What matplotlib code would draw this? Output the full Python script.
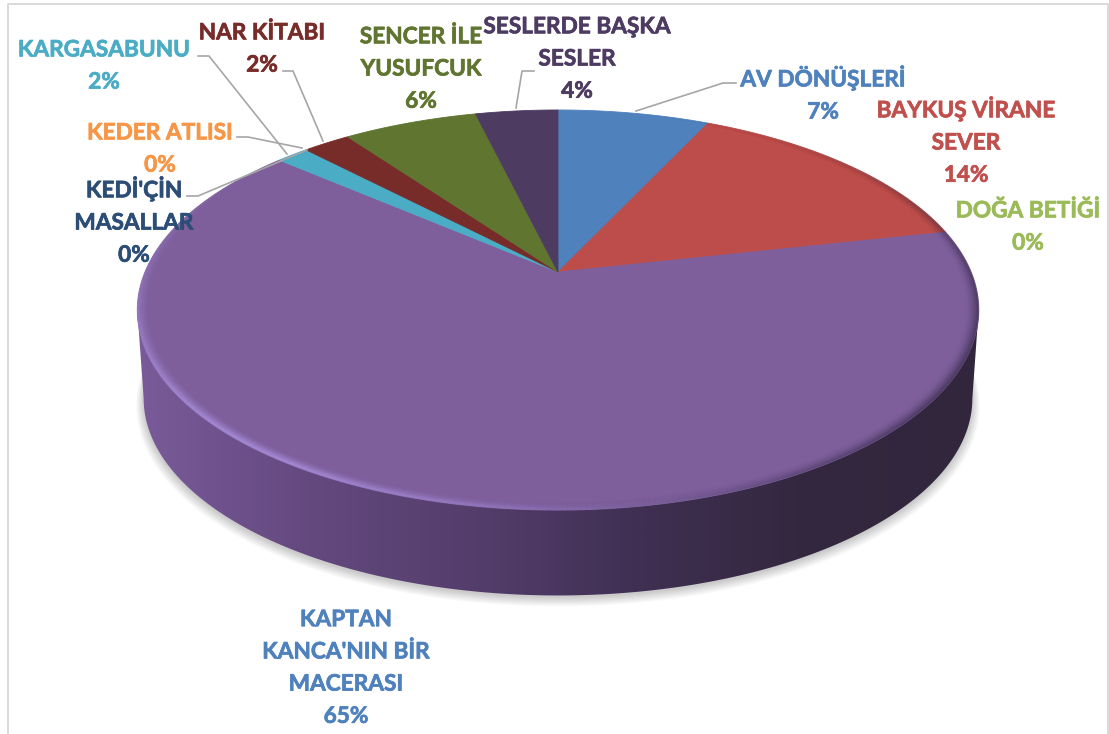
import matplotlib
matplotlib.use('Agg')
import matplotlib.pyplot as plt
import matplotlib.patheffects as pe
from matplotlib.collections import LineCollection
from matplotlib.colors import LinearSegmentedColormap
from matplotlib.patches import Polygon
import numpy as np

# share of each book, clockwise from 12 o'clock
names = ["AV DÖNÜŞLERİ", "BAYKUŞ VİRANE\nSEVER", "DOĞA BETİĞİ", "KAPTAN\nKANCA'NIN BİR\nMACERASI",
         "KEDİ'ÇİN\nMASALLAR", "KEDER ATLISI", "KARGASABUNU", "NAR KİTABI", "SENCER İLE\nYUSUFCUK",
         "SESLERDE BAŞKA\nSESLER"]
values = [7.0, 14.55, 0.0, 64.75, 0.0, 0.0, 1.5, 2.2, 6.2, 3.8]
pct_labels = ["7%", "14%", "0%", "65%", "0%", "0%", "2%", "2%", "6%", "4%"]

face_colors = ['#4F81BD', '#BC4D4A', '#9BBB59', '#7E5F9C', '#2C4D75', '#F79646', '#4BACC6', '#772C2A', '#5F7530', '#4D3B62']
text_colors = ['#4F81BD', '#C0504D', '#9BBB59', '#4F81BD', '#2C4D75', '#F79646', '#4BACC6', '#772C2A', '#5F7530', '#4D3B62']

# label centres in pixels
label_pos = [(823, 94), (966, 141), (1028, 227), (346, 668), (134, 221), (160, 149), (104, 66), (262, 49), (421, 69), (577, 59)]

# leader lines, only the ones excel draws
leaders = {
    0: [(736, 83), (723, 83), (636, 111)],
    4: [(187, 196), (198, 196), (307, 150)],
    5: [(237, 137), (248, 137), (302, 148)],
    6: [(198, 56), (209, 56), (287, 154)],
    7: [(283, 71), (293, 71), (323, 141)],
    9: [(534, 71), (522, 71), (516, 108)],
}

# pie geometry in pixels
CX, CY = 558, 272
RX, RY = 413, 192.8
PERSP = 0.19
DEPTH = 89
BOTTOM_SCALE = 0.985


def project(theta, r=1.0, dy=0.0, scale=1.0):
    # theta in radians clockwise from top, tilted circle to screen
    s, c = r * np.sin(theta), r * np.cos(theta)
    w = 1 + PERSP * c
    return CX + scale * RX * s / w, CY + dy + scale * RY * c * -1 / w


def wedge_poly(a0, a1):
    t = np.linspace(a0, a1, max(int((a1 - a0) * 120), 3))
    x, y = project(t)
    return np.r_[CX, x], np.r_[CY, y]


fig = plt.figure(figsize=(11.09, 7.34), dpi=100)
ax = fig.add_axes([0, 0, 1, 1])
ax.set_xlim(0, 1109)
ax.set_ylim(734, 0)
ax.axis('off')

# frame of the pasted picture, open at the bottom
ax.plot([8, 8, 1108, 1108], [734, 4, 4, 734], color='#DADADA', lw=1.4, zorder=0)

# soft shadow under the disc
tt = np.linspace(0, 2 * np.pi, 400)
for i in range(9):
    sx, sy = project(tt, dy=DEPTH + 2, scale=BOTTOM_SCALE + i * 0.0022)
    ax.fill(sx, sy + i * 0.6, color='#000000', alpha=0.022, lw=0, zorder=1)

# side wall
side_angle = np.pi / 2 + np.arcsin(PERSP)
t_low = np.linspace(side_angle, 2 * np.pi - side_angle, 300)
x_top, y_top = project(t_low)
x_bot, y_bot = project(t_low, dy=DEPTH, scale=BOTTOM_SCALE)
side = Polygon(np.c_[np.r_[x_top, x_bot[::-1]], np.r_[y_top, y_bot[::-1]]], closed=True, fc='none', ec='none', zorder=2)
ax.add_patch(side)
side_cmap = LinearSegmentedColormap.from_list('side', [
    (0.0, '#7A5B9A'), (0.2, '#64497F'), (0.42, '#523C69'), (0.6, '#3F2F52'), (0.78, '#342840'), (1.0, '#32263D')])
im = ax.imshow(np.linspace(1, 0, 400)[None, :], cmap=side_cmap, extent=(985, 135, 600, 270), aspect='auto', zorder=2)
im.set_clip_path(side)
ax.set_xlim(0, 1109)
ax.set_ylim(734, 0)

# top face
edges = np.r_[0, np.cumsum(values)] / np.sum(values) * 2 * np.pi
for i, v in enumerate(values):
    if v == 0:
        continue
    px, py = wedge_poly(edges[i], edges[i + 1])
    ax.fill(px, py, color=face_colors[i], lw=0.6, zorder=3)

# bevel along the rim, light on the lower left and dark on the right
t_rim = np.linspace(0, 2 * np.pi, 500)
deg = np.degrees(t_rim[:-1])
light = np.exp(-((deg - 225) / 42) ** 2)
dark = np.exp(-((deg - 112) / 42) ** 2)
for r in np.linspace(0.968, 0.999, 12):
    strength = ((r - 0.968) / 0.031) ** 2
    rx, ry = project(t_rim, r=r)
    pts = np.c_[rx, ry]
    segs = np.stack([pts[:-1], pts[1:]], axis=1)
    for rgb, amount, peak in [((0.70, 0.60, 0.92), light, 0.5), ((0.17, 0.13, 0.23), dark, 0.42)]:
        cols = np.zeros((len(deg), 4))
        cols[:, :3] = rgb
        cols[:, 3] = amount * peak * strength
        ax.add_collection(LineCollection(segs, colors=cols, linewidths=1.6, zorder=4, capstyle='butt'))

for i, pts in leaders.items():
    lx, ly = zip(*pts)
    ax.plot(lx, ly, color='#A6A6A6', lw=1.2, zorder=5, solid_joinstyle='round')

for i, name in enumerate(names):
    t = ax.text(label_pos[i][0], label_pos[i][1], name + "\n" + pct_labels[i], color=text_colors[i],
                ha='center', va='center', ma='center', fontsize=16.3, fontweight='bold',
                family=['Lato', 'DejaVu Sans'], linespacing=1.66, zorder=6)
    t.set_path_effects([pe.withStroke(linewidth=0.5, foreground=text_colors[i])])

fig.savefig('out.png', dpi=100)
